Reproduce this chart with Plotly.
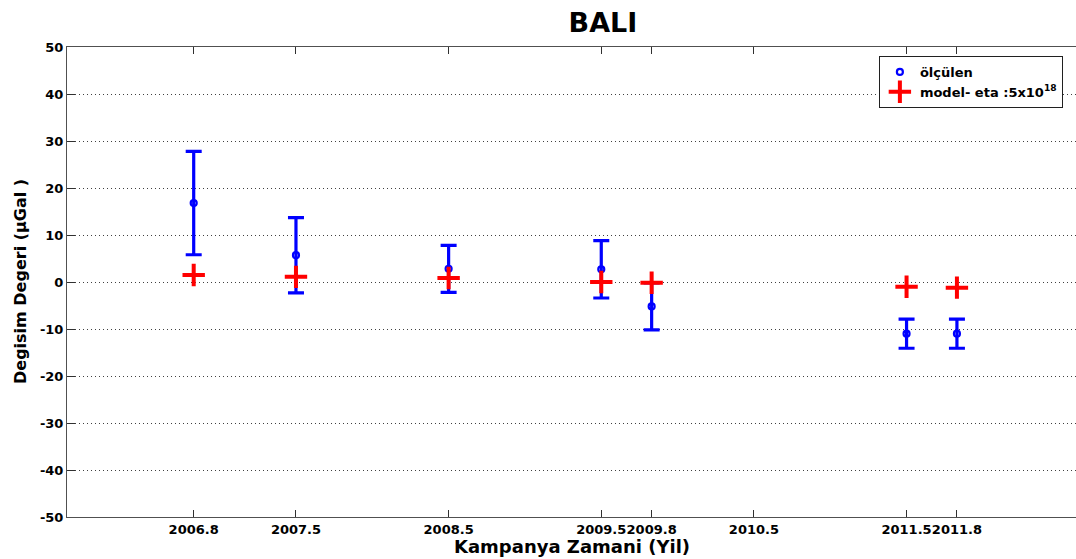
import plotly.graph_objects as go

# Campaign epochs (decimal years) and tick labels
campaign_years = [2006.83, 2007.5, 2008.5, 2009.5, 2009.83, 2011.5, 2011.83]
measured = [16.8, 5.7, 2.8, 2.7, -5.2, -11.0, -11.0]
measured_err = [11.0, 8.0, 5.0, 6.1, 5.0, 3.1, 3.1]
model = [1.5, 1.1, 0.85, 0.0, -0.15, -1.0, -1.2]

tick_vals = [2006.83, 2007.5, 2008.5, 2009.5, 2009.83, 2010.5, 2011.5, 2011.83]
tick_text = ["2006.8", "2007.5", "2008.5", "2009.5", "2009.8", "2010.5", "2011.5", "2011.8"]
y_ticks = [-50, -40, -30, -20, -10, 0, 10, 20, 30, 40, 50]
y_tick_text = ["-50", "-40", "-30", "-20", "-10", "0", "10", "20", "30", "40", "50"]

FONT = "DejaVu Sans, Liberation Sans, sans-serif"

fig = go.Figure()
fig.add_trace(go.Scatter(
    x=campaign_years, y=measured, mode="markers", name="ölçülen",
    marker=dict(symbol="circle-open", size=6, color="#0000ff", line=dict(width=2.2, color="#0000ff")),
    error_y=dict(type="data", array=measured_err, visible=True, color="#0000ff", thickness=3.2, width=8),
))
fig.add_trace(go.Scatter(
    x=campaign_years, y=model, mode="markers", name="model- eta :5x10<sup>18</sup>",
    marker=dict(symbol="cross-thin", size=16, color="#ff0000", line=dict(width=4, color="#ff0000")),
))

W, H = 1076, 559
L, R, T, B = 67, 0, 47, 42
fig.update_layout(
    width=W, height=H,
    margin=dict(l=L, r=R, t=T, b=B, autoexpand=False),
    paper_bgcolor="white", plot_bgcolor="white",
    font=dict(family=FONT, color="black"),
    title=dict(text="BALI", x=(L + (W - R)) / 2 / W, xref="paper", xanchor="center",
               y=1 - 23 / H, yref="container", yanchor="middle",
               font=dict(family=FONT, size=27, weight="bold", color="black")),
    showlegend=True,
    legend=dict(x=0.987, y=0.981, xanchor="right", yanchor="top",
                bgcolor="white", bordercolor="#202020", borderwidth=1,
                font=dict(family=FONT, size=13, weight="bold", color="black"),
                itemsizing="trace", tracegroupgap=0),
    annotations=[
        dict(text="Kampanya Zamani (Yil)", xref="paper", yref="paper", x=0.5, y=-(546 - 517) / 470,
             xanchor="center", yanchor="middle", showarrow=False,
             font=dict(family=FONT, size=18, weight="bold", color="black")),
        dict(text="Degisim Degeri (\u03bcGal )", xref="paper", yref="paper",
             x=-(67 - 20) / (W - L - R), y=0.5, textangle=-90,
             xanchor="center", yanchor="middle", showarrow=False,
             font=dict(family=FONT, size=16, weight="bold", color="black")),
    ],
)
fig.update_xaxes(
    range=[2006.0, 2012.61], tickmode="array", tickvals=tick_vals, ticktext=tick_text,
    tickangle=0, automargin=False, showgrid=False, zeroline=False,
    showline=True, linecolor="#505050", linewidth=1, mirror="ticks",
    ticks="inside", ticklen=7, tickcolor="#303030", tickwidth=1,
    tickfont=dict(family=FONT, size=13, weight="bold", color="black"),
)
fig.update_yaxes(
    range=[-50, 50], tickmode="array", tickvals=y_ticks, ticktext=y_tick_text,
    automargin=False, showgrid=True, gridcolor="#404040", griddash="1px,3px", gridwidth=1, zeroline=False,
    showline=True, linecolor="#505050", linewidth=1, mirror=False,
    ticks="inside", ticklen=8, tickcolor="#303030", tickwidth=1,
    tickfont=dict(family=FONT, size=13, weight="bold", color="black"),
)

fig.write_html(
    "out.html",
    config={"displayModeBar": False},
    post_script="document.body.style.margin='0';document.body.style.overflow='hidden';",
)
